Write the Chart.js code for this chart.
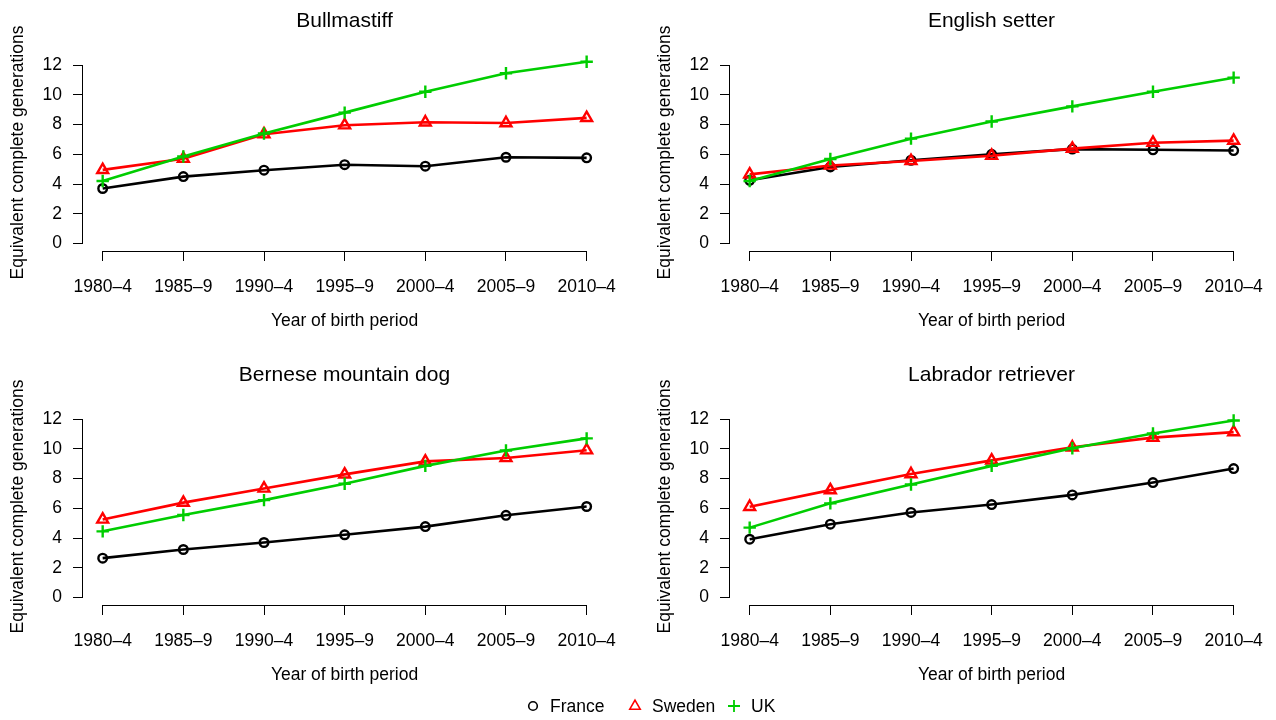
<!DOCTYPE html>
<html>
<head>
<meta charset="utf-8">
<title>Equivalent complete generations</title>
<script src="https://cdn.jsdelivr.net/npm/chart.js@4.4.1/dist/chart.umd.min.js"></script>
<style>
  body { margin: 0; background: #fff; font-family: 'Liberation Sans', Arial, sans-serif; }
  #wrap { position: relative; width: 1276px; height: 720px; overflow: hidden; }
  #wrap canvas { position: absolute; }
  .key { position: absolute; top: 695px; height: 22px; font-size: 17.5px; color: #000;
         display: flex; align-items: center; white-space: nowrap; }
  .key svg { width: 16px; height: 16px; margin-right: 9px; }
</style>
</head>
<body>
<div id="wrap">
  <canvas id="bullmastiff" width="640" height="354" style="left:0;top:0"></canvas>
  <canvas id="setter" width="640" height="354" style="left:647px;top:0"></canvas>
  <canvas id="bernese" width="640" height="354" style="left:0;top:354px"></canvas>
  <canvas id="labrador" width="640" height="354" style="left:647px;top:354px"></canvas>

  <div class="key" style="left:525px">
    <svg viewBox="0 0 16 16"><circle cx="8" cy="8" r="4.3" fill="none" stroke="#000" stroke-width="1.6"/></svg>France
  </div>
  <div class="key" style="left:627px">
    <svg viewBox="0 0 16 16"><polygon points="8,2.2 13.2,11.2 2.8,11.2" fill="none" stroke="#ff0000" stroke-width="1.6"/></svg>Sweden
  </div>
  <div class="key" style="left:726px">
    <svg viewBox="0 0 16 16"><path d="M8 2 V14 M2 8 H14" stroke="#00cd00" stroke-width="1.8"/></svg>UK
  </div>
</div>

<script>
// Birth periods (x axis) and y tick values
const periods = ['1980\u20134', '1985\u20139', '1990\u20134', '1995\u20139', '2000\u20134', '2005\u20139', '2010\u20134'];
const yTicks = [0, 2, 4, 6, 8, 10, 12];

// Equivalent complete generations
const bullmastiffFrance = [3.7, 4.5, 4.93, 5.3, 5.2, 5.8, 5.76];
const bullmastiffSweden = [4.95, 5.7, 7.35, 7.95, 8.15, 8.1, 8.45];
const bullmastiffUK = [4.2, 5.85, 7.4, 8.8, 10.2, 11.45, 12.22];

const setterFrance = [4.25, 5.15, 5.6, 6.0, 6.35, 6.3, 6.25];
const setterSweden = [4.65, 5.25, 5.55, 5.9, 6.38, 6.78, 6.92];
const setterUK = [4.2, 5.68, 7.05, 8.2, 9.22, 10.2, 11.15];

const berneseFrance = [2.65, 3.23, 3.7, 4.22, 4.77, 5.53, 6.12];
const berneseSweden = [5.25, 6.38, 7.33, 8.28, 9.15, 9.38, 9.9];
const berneseUK = [4.45, 5.55, 6.55, 7.65, 8.85, 9.88, 10.7];

const labradorFrance = [3.92, 4.93, 5.72, 6.25, 6.9, 7.73, 8.67];
const labradorSweden = [6.1, 7.22, 8.3, 9.22, 10.1, 10.75, 11.12];
const labradorUK = [4.7, 6.33, 7.6, 8.85, 10.03, 11.03, 11.9];

const countryColors = { France: '#000000', Sweden: '#ff0000', UK: '#00cd00' };
const countryMarkers = { France: 'circle', Sweden: 'triangle', UK: 'cross' };
const markerSize = { France: 4.3, Sweden: 6.3, UK: 6.2 };

Chart.defaults.font.family = "'Liberation Sans', Arial, sans-serif";
Chart.defaults.color = '#000';

// R style axis lines: only from first to last tick
const rAxisLines = {
    id: 'rAxisLines',
    afterDraw(chart) {
        const { ctx, scales: { x, y } } = chart;
        ctx.save();
        ctx.strokeStyle = '#000';
        ctx.lineWidth = 1;
        ctx.beginPath();
        const yb = Math.round(x.top) + 0.5;
        ctx.moveTo(x.getPixelForValue(1), yb);
        ctx.lineTo(x.getPixelForValue(periods.length), yb);
        const xl = Math.round(y.right) - 0.5;
        ctx.moveTo(xl, y.getPixelForValue(yTicks[0]));
        ctx.lineTo(xl, y.getPixelForValue(yTicks[yTicks.length - 1]));
        ctx.stroke();
        ctx.restore();
    }
};

function toPoints(values) {
    return values.map((v, i) => ({ x: i + 1, y: v }));
}

function makeDataset(country, values, order) {
    return {
        label: country,
        data: toPoints(values),
        borderColor: countryColors[country],
        backgroundColor: countryColors[country],
        borderWidth: 2.6,
        pointStyle: countryMarkers[country],
        pointRadius: markerSize[country],
        pointBorderWidth: 2.4,
        pointBackgroundColor: 'transparent',
        pointBorderColor: countryColors[country],
        tension: 0,
        order: order
    };
}

function makePanel(id, title, france, sweden, uk) {
    const ctx = document.getElementById(id).getContext('2d');
    return new Chart(ctx, {
        type: 'line',
        data: {
            datasets: [
                makeDataset('France', france, 3),
                makeDataset('Sweden', sweden, 2),
                makeDataset('UK', uk, 1)
            ]
        },
        options: {
            responsive: false,
            animation: false,
            devicePixelRatio: 1,
            layout: { padding: { left: 0, right: 34, top: 0, bottom: 0 } },
            plugins: {
                legend: { display: false },
                tooltip: { enabled: false },
                title: {
                    display: true,
                    text: title,
                    fullSize: false,
                    color: '#000',
                    font: { size: 21, weight: 'normal' },
                    padding: { top: 8.4, bottom: 20.4 }
                }
            },
            scales: {
                x: {
                    type: 'linear',
                    min: 0.756,
                    max: 7.24,
                    border: { display: false },
                    grid: { drawOnChartArea: false, drawTicks: true, tickLength: 10, tickColor: '#000', tickWidth: 1 },
                    afterBuildTicks: (scale) => { scale.ticks = periods.map((p, i) => ({ value: i + 1 })); },
                    afterFit: (scale) => { scale.height = 103; },
                    ticks: {
                        autoSkip: false,
                        maxRotation: 0,
                        padding: 16,
                        font: { size: 17.5 },
                        color: '#000',
                        callback: (value) => periods[value - 1]
                    },
                    title: {
                        display: true,
                        text: 'Year of birth period',
                        color: '#000',
                        font: { size: 17.5 },
                        padding: { top: 0, bottom: 22.5 }
                    }
                },
                y: {
                    min: -0.5,
                    max: 12.74,
                    border: { display: false },
                    grid: { drawOnChartArea: false, drawTicks: true, tickLength: 10, tickColor: '#000', tickWidth: 1 },
                    afterBuildTicks: (scale) => { scale.ticks = yTicks.map(v => ({ value: v })); },
                    afterFit: (scale) => { scale.width = 83; },
                    ticks: {
                        padding: 11,
                        font: { size: 17.5 },
                        color: '#000'
                    },
                    title: {
                        display: true,
                        text: 'Equivalent complete generations',
                        color: '#000',
                        font: { size: 17.5 },
                        padding: { top: 7.5, bottom: 0 }
                    }
                }
            }
        },
        plugins: [rAxisLines]
    });
}

document.addEventListener('DOMContentLoaded', () => {
    makePanel('bullmastiff', 'Bullmastiff', bullmastiffFrance, bullmastiffSweden, bullmastiffUK);
    makePanel('setter', 'English setter', setterFrance, setterSweden, setterUK);
    makePanel('bernese', 'Bernese mountain dog', berneseFrance, berneseSweden, berneseUK);
    makePanel('labrador', 'Labrador retriever', labradorFrance, labradorSweden, labradorUK);
});
</script>
</body>
</html>
